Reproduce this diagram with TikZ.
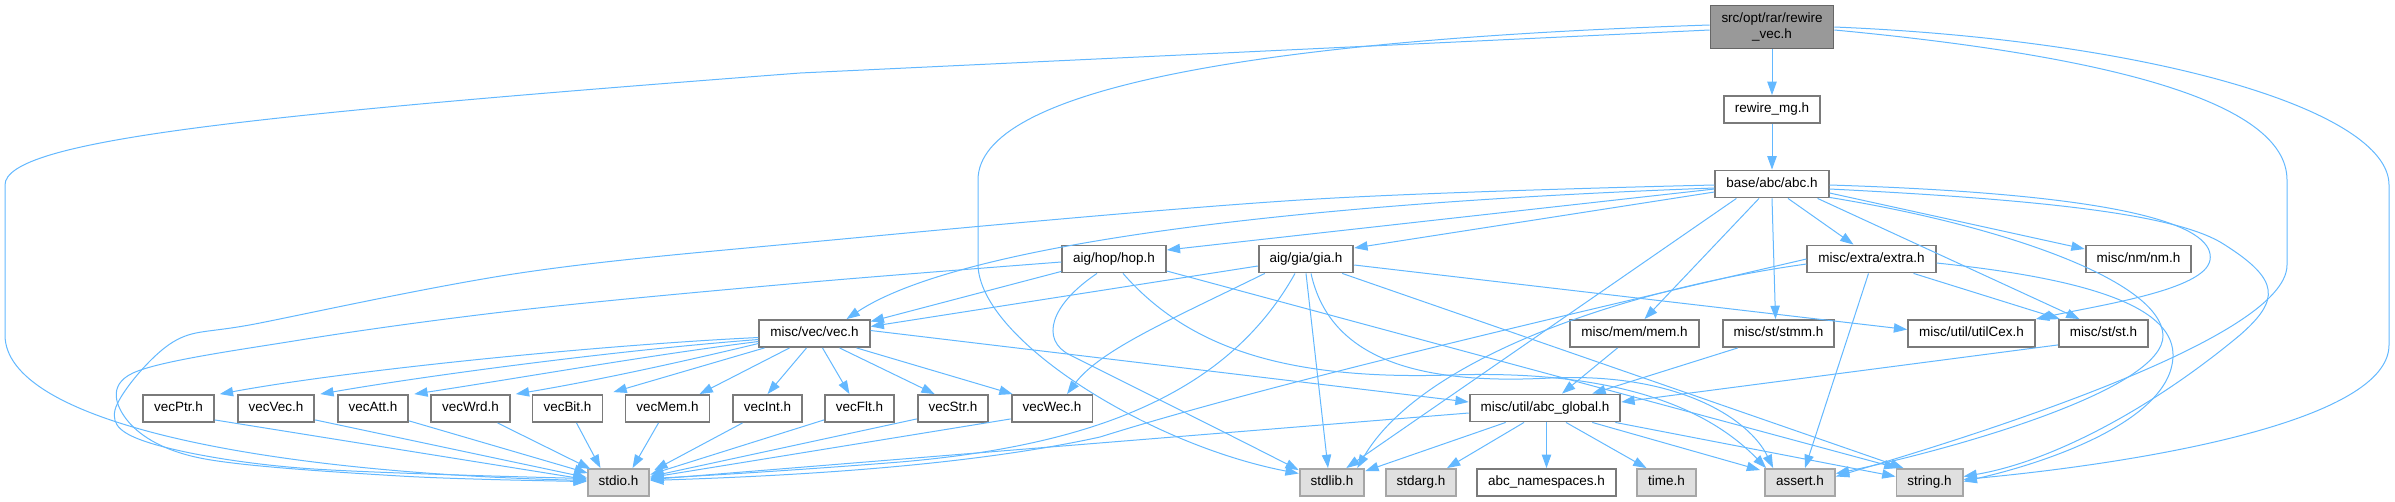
\documentclass[tikz,border=0pt]{standalone}
\usepackage{fontspec}
\setmainfont{Liberation Sans}
\usetikzlibrary{arrows.meta,calc}
\definecolor{edgeblue}{HTML}{63B8FF}
\definecolor{greyforty}{HTML}{666666}
\definecolor{greyborder}{HTML}{7A7A7A}
\definecolor{greysixty}{HTML}{999999}
\definecolor{greylight}{HTML}{A6A6A6}
\definecolor{greysys}{HTML}{E0E0E0}
\begin{document}
\begin{tikzpicture}[x=0.75pt,y=-0.75pt,font=\fontsize{10.1}{12}\selectfont,
 cell/.style={draw=greyborder,line width=1.4pt,fill=white,inner xsep=8.25pt,inner ysep=0pt},
 box/.style={cell,minimum height=20.25pt,text height=7.4pt,text depth=2.4pt},
 sysbox/.style={box,draw=greylight,fill=greysys},
 link/.style={-{Triangle[length=10pt,width=7pt]},draw=edgeblue,line width=0.75pt}]
\useasboundingbox (0,0) rectangle (2395,501);
\node[cell,draw=greyforty,fill=greysixty,align=center,minimum height=32.25pt] (rv) at (1772,27) {src/opt/rar/rewire\\\_vec.h};
\node[box] (mg) at (1772,109.5) {rewire\_mg.h};
\node[box] (abc) at (1772,184) {base/abc/abc.h};
\node[box] (hop) at (1114,259) {aig/hop/hop.h};
\node[box] (gia) at (1306,259) {aig/gia/gia.h};
\node[box] (extra) at (1871.5,259) {misc/extra/extra.h};
\node[box] (nm) at (2138.5,259) {misc/nm/nm.h};
\node[box] (vec) at (814.5,333.5) {misc/vec/vec.h};
\node[box] (mem) at (1634.5,333.5) {misc/mem/mem.h};
\node[box] (stmm) at (1778.5,333.5) {misc/st/stmm.h};
\node[box] (utilCex) at (1971.5,333.5) {misc/util/utilCex.h};
\node[box] (st) at (2103.5,333.5) {misc/st/st.h};
\node[box] (vecPtr) at (178.5,408.5) {vecPtr.h};
\node[box] (vecVec) at (276,408.5) {vecVec.h};
\node[box] (vecAtt) at (373,408.5) {vecAtt.h};
\node[box] (vecWrd) at (470.5,408.5) {vecWrd.h};
\node[box] (vecBit) at (567.5,408.5) {vecBit.h};
\node[box] (vecMem) at (667.5,408.5) {vecMem.h};
\node[box] (vecInt) at (767.5,408.5) {vecInt.h};
\node[box] (vecFlt) at (859.5,408.5) {vecFlt.h};
\node[box] (vecStr) at (953,408.5) {vecStr.h};
\node[box] (vecWec) at (1052,408.5) {vecWec.h};
\node[box] (abcglobal) at (1545,408) {misc/util/abc\_global.h};
\node[sysbox] (stdio) at (618.5,482.5) {stdio.h};
\node[sysbox] (stdlib) at (1332,482.5) {stdlib.h};
\node[sysbox] (stdarg) at (1421,482.5) {stdarg.h};
\node[box] (abcns) at (1546.5,482.5) {abc\_namespaces.h};
\node[sysbox] (time) at (1666.5,482.5) {time.h};
\node[sysbox] (assert) at (1800,482.5) {assert.h};
\node[sysbox] (string) at (1929.5,482.5) {string.h};

% rewire_vec.h
\draw[link] (rv) -- (mg);
\draw[link] ($(rv.west)+(0,3)$) -- (800,73) .. controls (250,115) and (5,140) .. (5,185) -- (5,335) .. controls (5,420) and (250,472) .. ($(stdio.west)+(0,-2)$);
\draw[link] ($(rv.west)+(0,-2)$) .. controls (1250,40) and (978,90) .. (978,180) -- (978,265) .. controls (980,340) and (1150,445) .. ($(stdlib.west)+(0,-9)$);
\draw[link] ($(rv.east)+(0,3)$) .. controls (2100,55) and (2287,100) .. (2287,180) -- (2287,265) .. controls (2287,340) and (1960,440) .. ($(assert.east)+(0,-6)$);
\draw[link] (rv.east) .. controls (2150,40) and (2389,110) .. (2389,185) -- (2389,345) .. controls (2389,420) and (2150,462) .. ($(string.east)+(0,-3)$);
\draw[link] (mg) -- (abc);

% base/abc/abc.h
\draw[link] ($(abc.west)+(0,5)$) -- ($(hop.east)+(0,-9)$);
\draw[link] ($(abc.west)+(0,8)$) -- ($(gia.east)+(0,-11)$);
\draw[link] ($(abc.west)+(0,4)$) .. controls (1250,205) and (950,250) .. ($(vec.north)+(32,0)$);
\draw[link] plot[smooth,tension=0.55] coordinates {($(abc.west)+(0,1)$) (1300,200) (800,243) (520,273) (260,323) (173,342) (115,410) (150,443) (300,468) ($(stdio.west)+(0,-4)$)};
\draw[link] ($(abc.south west)+(22,0)$) -- ($(stdlib.north east)+(-19,0)$);
\draw[link] ($(abc.south)+(-13,0)$) -- ($(mem.north)+(10,0)$);
\draw[link] (abc.south) -- ($(stmm.north)+(-3,0)$);
\draw[link] ($(abc.south)+(16,0)$) -- ($(extra.north)+(-18,0)$);
\draw[link] ($(abc.south east)+(-12,0)$) -- ($(st.north)+(-24,0)$);
\draw[link] ($(abc.east)+(0,9)$) -- ($(nm.west)+(0,-10)$);
\draw[link] ($(abc.east)+(0,1)$) .. controls (2150,195) and (2215,230) .. (2210,260) .. controls (2205,290) and (2100,305) .. (utilCex.north east);
\draw[link] ($(abc.east)+(0,5)$) .. controls (2050,200) and (2180,215) .. (2225,245) .. controls (2280,280) and (2280,300) .. (2240,335) .. controls (2150,410) and (2050,462) .. ($(string.east)+(0,-6)$);
\draw[link] ($(abc.south east)+(0,-1)$) .. controls (2000,225) and (2160,280) .. (2163,335) .. controls (2165,390) and (1950,450) .. ($(assert.east)+(0,-9)$);

% aig/hop/hop.h
\draw[link] ($(hop.south west)+(0,-2)$) -- ($(vec.east)+(0,-12)$);
\draw[link] plot[smooth,tension=0.55] coordinates {($(hop.west)+(0,3)$) (800,283) (520,310) (300,340) (133,373) (127,420) (200,458) (400,476) ($(stdio.west)+(0,-1)$)};
\draw[link] ($(hop.south)+(-17,0)$) .. controls (1050,305) and (1040,340) .. (1070,355) .. controls (1150,395) and (1240,440) .. ($(stdlib.north west)+(0,2)$);
\draw[link] ($(hop.east)+(0,12)$) -- ($(string.north west)+(2,0)$);
\draw[link] ($(hop.south)+(9,0)$) .. controls (1190,350) and (1290,380) .. (1450,375) .. controls (1600,370) and (1700,400) .. ($(assert.north west)+(2,0)$);

% aig/gia/gia.h
\draw[link] ($(gia.west)+(0,7)$) -- ($(vec.east)+(0,-7)$);
\draw[link] ($(gia.south west)+(7,0)$) .. controls (1170,320) and (1100,350) .. ($(vecWec.north)+(15,0)$);
\draw[link] ($(gia.south)+(-11,0)$) .. controls (1230,390) and (1100,445) .. (900,462) .. controls (800,470) and (700,476) .. ($(stdio.east)+(0,-4)$);
\draw[link] (gia.south) -- ($(stdlib.north)+(-4,0)$);
\draw[link] ($(gia.east)+(0,6)$) -- ($(utilCex.west)+(0,-4)$);
\draw[link] ($(gia.south east)+(-12,0)$) -- ($(string.north west)+(8,0)$);
\draw[link] ($(gia.south)+(5,0)$) .. controls (1330,360) and (1420,385) .. (1550,378) .. controls (1680,372) and (1750,420) .. ($(assert.north west)+(9,0)$);

% misc/extra/extra.h
\draw[link] (extra.west) .. controls (1500,330) and (1250,390) .. (1100,437) .. controls (950,470) and (750,477) .. ($(stdio.east)+(0,-2)$);
\draw[link] ($(extra.west)+(0,5)$) .. controls (1620,290) and (1420,360) .. ($(stdlib.north east)+(-8,0)$);
\draw[link] ($(extra.south)+(-3,0)$) -- ($(assert.north)+(5,0)$);
\draw[link] ($(extra.south east)+(-23,0)$) -- ($(st.north west)+(2,0)$);
\draw[link] ($(extra.east)+(0,4)$) .. controls (2100,280) and (2175,310) .. (2173,357) .. controls (2170,420) and (2050,462) .. ($(string.east)+(0,-1)$);

% misc/vec/vec.h
\draw[link] ($(vec.west)+(0,4)$) .. controls (600,345) and (350,370) .. ($(vecPtr.north east)+(5,0)$);
\draw[link] ($(vec.west)+(0,6)$) .. controls (620,350) and (430,375) .. ($(vecVec.north east)+(5,0)$);
\draw[link] ($(vec.west)+(0,8)$) .. controls (650,355) and (520,378) .. ($(vecAtt.north east)+(5,0)$);
\draw[link] ($(vec.west)+(0,10)$) .. controls (690,360) and (600,380) .. ($(vecWrd.north east)+(5,0)$);
\draw[link] ($(vec.south west)+(6,0)$) -- ($(vecBit.north east)+(10,-2)$);
\draw[link] ($(vec.south)+(-25,0)$) -- ($(vecMem.north)+(32,0)$);
\draw[link] ($(vec.south)+(-8,0)$) -- (vecInt.north);
\draw[link] ($(vec.south)+(8,0)$) -- ($(vecFlt.north)+(-10,0)$);
\draw[link] ($(vec.south)+(25,0)$) -- ($(vecStr.north west)+(18,0)$);
\draw[link] ($(vec.south east)+(-14,0)$) -- ($(vecWec.north west)+(2,0)$);
\draw[link] ($(vec.east)+(0,-3)$) -- ($(abcglobal.west)+(0,-6)$);

% vector headers
\draw[link] ($(vecPtr.south east)+(0,-3)$) -- ($(stdio.west)+(0,-3)$);
\draw[link] ($(vecVec.south east)+(0,-3)$) -- ($(stdio.west)+(0,-5)$);
\draw[link] ($(vecAtt.south east)+(0,-2)$) -- ($(stdio.north west)+(1,5)$);
\draw[link] ($(vecWrd.south)+(27,0)$) -- ($(stdio.north west)+(4,1)$);
\draw[link] ($(vecBit.south)+(9,0)$) -- ($(stdio.north)+(-18,0)$);
\draw[link] ($(vecMem.south)+(-9,0)$) -- ($(stdio.north)+(14,0)$);
\draw[link] ($(vecInt.south)+(-25,0)$) -- ($(stdio.north east)+(4,2)$);
\draw[link] ($(vecFlt.south west)+(0,-3)$) -- ($(stdio.east)+(0,-8)$);
\draw[link] ($(vecStr.south west)+(0,-4)$) -- ($(stdio.east)+(0,-6)$);
\draw[link] ($(vecWec.south west)+(0,-4)$) -- ($(stdio.east)+(0,-5)$);

% misc/mem, misc/st
\draw[link] ($(mem.south)+(-17,0)$) -- ($(abcglobal.north)+(17,0)$);
\draw[link] ($(stmm.south west)+(16,0)$) -- ($(abcglobal.north east)+(-29,0)$);
\draw[link] ($(st.south west)+(0,-3)$) -- ($(abcglobal.east)+(0,-6)$);

% misc/util/abc_global.h
\draw[link] ($(abcglobal.west)+(0,5)$) -- ($(stdio.east)+(0,-3)$);
\draw[link] ($(abcglobal.south west)+(37,0)$) -- ($(stdlib.north east)+(0,3)$);
\draw[link] ($(abcglobal.south)+(-21,0)$) -- ($(stdarg.north)+(26,0)$);
\draw[link] ($(abcglobal.south)+(1.5,0)$) -- (abcns.north);
\draw[link] ($(abcglobal.south)+(21,0)$) -- ($(time.north)+(-20,0)$);
\draw[link] ($(abcglobal.south east)+(-29,0)$) -- ($(assert.north west)+(-4,2)$);
\draw[link] ($(abcglobal.south east)+(-6,0)$) -- ($(string.west)+(0,-6)$);
\end{tikzpicture}
\end{document}
